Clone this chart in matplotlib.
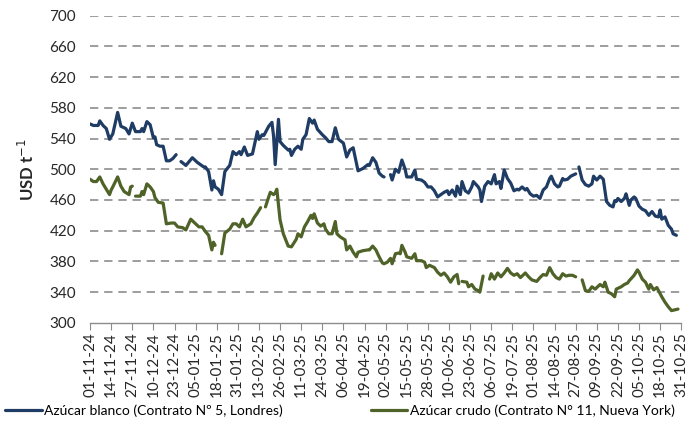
"""
Precios internacionales del azucar: contrato N 5 (Londres) y N 11 (Nueva York).
"""

import numpy as np
import pandas as pd
import matplotlib

matplotlib.use("Agg")
import matplotlib.pyplot as plt


START = pd.Timestamp("2024-11-01")
END = pd.Timestamp("2025-10-31")
TICK_STEP_DAYS = 13

Y_TICKS = [300, 340, 380, 420, 460, 500, 540, 580, 620, 660, 700]

LABEL_BLANCO = "Azúcar blanco (Contrato Nº 5, Londres)"
LABEL_CRUDO = "Azúcar crudo (Contrato N° 11, Nueva York)"

# days since 01-11-24, None = no quote
blanco_days = [
    0, 2, 5, 6, 8, 10, 12, 14, 17, 19,
    22, 24, 26, 28, 31, 32, 33, 35, 37, 39,
    40, 41, 43, 45, 47, 49, 51, 53, 54, 56,
    59, 63, 66, 68, 70, 71, 73, 75, 76, 77,
    79, 81, 83, 86, 88, 90, 92, 93, 95, 97,
    100, 103, 104, 106, 107, 109, 110, 112, 113, 114,
    116, 117, 119, 122, 123, 124, 126, 128, 130, 131,
    133, 135, 137, 138, 140, 143, 145, 147, 149, 151,
    153, 156, 158, 160, 162, 165, 168, 171, 172, 174,
    176, 178, 180, 181, 183, 185, 186, 188, 190, 192,
    194, 195, 198, 200, 201, 204, 206, 208, 210, 212,
    214, 216, 218, 220, 221, 223, 225, 226, 228, 229,
    231, 233, 235, 236, 239, 240, 241, 243, 245, 247,
    249, 250, 252, 253, 255, 257, 259, 261, 263, 264,
    266, 268, 269, 271, 273, 275, 277, 279, 281, 283,
    284, 286, 288, 289, 291, 292, 294, 296, 298, 299,
    300, 301, 303, 305, 307, 309, 310, 312, 314, 316,
    318, 320, 322, 323, 324, 325, 327, 329, 330, 332,
    333, 335, 336, 338, 340, 342, 344, 346, 348, 350,
    351, 352, 354, 356, 358, 359, 361,
]
blanco_vals = [
    559, 557, 557, 563, 557, 553, 539, 546, 574, 556,
    553, 546, 560, 549, 549, 553, 549, 562, 558, 541,
    542, 532, 530, 530, 511, 511, 514, 519, None, 510,
    505, 515, 509, 506, 503, 503, 497, 473, 485, 477,
    474, 467, 497, 505, 523, 519, 523, 519, 529, 518,
    520, 549, 539, 545, 544, 552, 556, 561, 543, 506,
    565, 536, 531, 525, 526, 518, 526, 530, 526, 539,
    545, 566, 560, 564, 552, 545, 541, 536, 536, 554,
    539, 534, 516, 525, 528, 498, 501, 506, 505, 515,
    509, 495, 491, 490, None, 493, 486, 500, 496, 512,
    500, 490, 490, 499, 487, 486, 483, 477, 477, 472,
    464, 467, 470, 472, 467, 473, 465, 478, 467, 484,
    472, 469, 477, 484, 477, 473, 458, 478, 484, 481,
    493, 481, 484, 475, 499, 488, 482, 472, 474, 473,
    477, 473, 475, 468, 465, 466, 462, 473, 477, 488,
    491, 481, 477, 478, 488, 486, 487, 491, 493, 494,
    None, 503, 486, 480, 478, 481, 491, 486, 491, 487,
    458, 453, 451, 459, 458, 462, 458, 462, 468, 453,
    460, 464, 462, 452, 448, 446, 440, 445, 439, 438,
    447, 435, 438, 427, 422, 416, 414,
]

crudo_days = [
    0, 2, 4, 6, 8, 10, 12, 13, 14, 17,
    19, 21, 24, 25, 26, 27, 28, 31, 32, 33,
    35, 37, 39, 40, 42, 45, 47, 50, 52, 54,
    57, 59, 62, 65, 67, 69, 71, 73, 75, 76,
    77, 79, 81, 83, 86, 88, 90, 92, 94, 96,
    99, 101, 103, 105, 106, 108, 110, 111, 113, 114,
    115, 117, 119, 122, 124, 127, 128, 130, 132, 134,
    136, 137, 138, 140, 142, 144, 145, 147, 149, 151,
    152, 154, 157, 158, 160, 162, 164, 165, 168, 171,
    172, 174, 176, 178, 180, 181, 183, 185, 186, 188,
    190, 191, 192, 194, 195, 198, 200, 201, 204, 206,
    207, 209, 212, 214, 216, 218, 220, 222, 224, 226,
    227, 228, 229, 232, 233, 235, 237, 239, 240, 242,
    244, 246, 247, 249, 251, 253, 255, 257, 259, 261,
    263, 265, 268, 270, 272, 275, 277, 279, 281, 283,
    285, 287, 289, 291, 293, 295, 297, 299, 301, 303,
    305, 307, 309, 311, 314, 316, 317, 319, 321, 323,
    324, 327, 329, 331, 332, 335, 337, 338, 340, 342,
    344, 345, 347, 349, 351, 352, 354, 356, 358, 360,
    362,
]
crudo_vals = [
    487, 484, 484, 490, 481, 474, 467, 473, 477, 490,
    478, 471, 467, 477, 478, None, 465, 465, 471, 467,
    481, 477, 471, 463, 457, 456, 429, 430, 430, 425,
    424, 421, 435, 429, 425, 425, 419, 414, 395, 405,
    401, None, 390, 417, 422, 429, 429, 425, 435, 425,
    429, 437, 443, 450, None, 451, 464, 470, 467, 469,
    474, 434, 416, 400, 399, 409, 416, 412, 425, 432,
    440, 436, 442, 430, 426, 429, 422, 416, 416, 432,
    416, 412, 408, 395, 400, 392, 386, 392, 394, 395,
    395, 400, 395, 386, 378, 377, 379, 384, 377, 390,
    391, 390, 401, 392, 386, 384, 390, 381, 381, 379,
    372, 375, 372, 366, 362, 365, 360, 353, 360, 363,
    351, None, 354, 353, 347, 350, 344, 342, 340, 361,
    None, 357, 364, 357, 365, 360, 365, 371, 365, 362,
    364, 359, 365, 360, 356, 354, 359, 363, 362, 372,
    364, 359, 357, 364, 361, 362, 362, 360, None, 356,
    342, 341, 347, 344, 350, 347, 353, 340, 338, 334,
    344, 347, 350, 352, 355, 362, 369, 366, 357, 353,
    344, 350, 343, 346, 338, 334, 327, 321, 316, 317,
    318,
]

BLUE = "#1f3c64"
GREEN = "#4f6228"
GRID = "#8c8c8c"
TEXT = "#262626"


def to_dates(days):
    return START + pd.to_timedelta(days, unit="D")


def main():
    plt.rcParams["font.family"] = ["Lato", "DejaVu Sans"]

    fig = plt.figure(figsize=(6.98, 4.46), dpi=100)
    ax = fig.add_axes([0.129, 0.276, 0.847, 0.689])

    ax.plot(to_dates(blanco_days), np.array(blanco_vals, dtype=float),
            color=BLUE, lw=2.3, label=LABEL_BLANCO, solid_capstyle="round")
    ax.plot(to_dates(crudo_days), np.array(crudo_vals, dtype=float),
            color=GREEN, lw=2.3, label=LABEL_CRUDO, solid_capstyle="round")

    # x axis: one tick every 13 days
    ticks = pd.date_range(START, END, freq=f"{TICK_STEP_DAYS}D")
    ax.set_xlim(START, END)
    ax.set_xticks(ticks)
    ax.set_xticklabels([t.strftime("%d-%m-%y") for t in ticks],
                       rotation=90, fontsize=11, color=TEXT)

    ax.set_ylim(300, 700)
    ax.set_yticks(Y_TICKS)
    ax.set_yticklabels([str(v) for v in Y_TICKS], fontsize=11, color=TEXT)

    for v in Y_TICKS[1:]:
        ax.axhline(v, color=GRID, lw=1.2, ls=(0, (5, 3.5)), zorder=0)

    for side in ("left", "right", "top"):
        ax.spines[side].set_visible(False)
    ax.spines["bottom"].set_color(GRID)
    ax.spines["bottom"].set_linewidth(1.0)
    ax.tick_params(axis="x", direction="out", length=5, color=GRID, pad=2)
    ax.tick_params(axis="y", length=0, pad=10)

    ax.set_ylabel(r"USD t$^{-1}$", fontsize=12, fontweight="bold",
                  color=TEXT, labelpad=9)

    fig.legend(loc="center", bbox_to_anchor=(0.487, 0.08), ncol=2,
               frameon=False, fontsize=10, handlelength=2.6,
               handletextpad=0.15, columnspacing=6.4)

    fig.savefig("out.png", dpi=100)
    return 0


if __name__ == "__main__":
    main()
